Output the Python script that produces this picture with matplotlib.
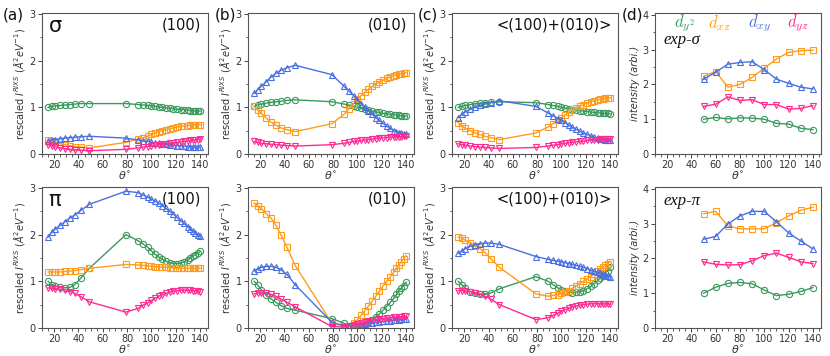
import matplotlib
matplotlib.use("Agg")
import matplotlib.pyplot as plt
from matplotlib.ticker import MultipleLocator

# theory angles (deg) shared by all calculated curves
theta = [15, 18, 21, 25, 29, 33, 37, 42, 49, 79, 89, 93, 97, 100, 103, 106, 109,
         112, 115, 118, 121, 124, 127, 130, 132, 134, 136, 138, 140]
# experiment angles
theta_exp = [50, 60, 70, 80, 90, 100, 110, 120, 130, 140]

# sigma (100)
s100_y2 = [1.0, 1.02, 1.03, 1.04, 1.05, 1.06, 1.07, 1.08, 1.08, 1.08, 1.06, 1.05, 1.04, 1.03, 1.02,
           1.01, 1.0, 0.99, 0.98, 0.97, 0.96, 0.95, 0.95, 0.94, 0.93, 0.93, 0.92, 0.92, 0.92]
s100_xz = [0.3, 0.27, 0.25, 0.22, 0.2, 0.18, 0.16, 0.15, 0.13, 0.25, 0.32, 0.35, 0.38, 0.42, 0.45,
           0.48, 0.5, 0.52, 0.54, 0.56, 0.58, 0.59, 0.6, 0.61, 0.62, 0.62, 0.63, 0.63, 0.63]
s100_xy = [0.28, 0.3, 0.31, 0.33, 0.34, 0.35, 0.36, 0.37, 0.38, 0.34, 0.3, 0.28, 0.27, 0.25, 0.24,
           0.23, 0.22, 0.21, 0.2, 0.19, 0.18, 0.17, 0.17, 0.16, 0.16, 0.15, 0.15, 0.15, 0.15]
s100_yz = [0.2, 0.17, 0.15, 0.13, 0.11, 0.1, 0.09, 0.08, 0.07, 0.1, 0.13, 0.15, 0.16, 0.17, 0.19,
           0.2, 0.21, 0.22, 0.23, 0.24, 0.25, 0.26, 0.27, 0.28, 0.29, 0.3, 0.3, 0.31, 0.32]

# sigma (010)
s010_y2 = [1.02, 1.05, 1.07, 1.09, 1.11, 1.12, 1.13, 1.15, 1.16, 1.12, 1.07, 1.05, 1.02, 1.0, 0.98,
           0.96, 0.94, 0.92, 0.9, 0.89, 0.87, 0.86, 0.85, 0.84, 0.83, 0.83, 0.82, 0.82, 0.81]
s010_xz = [1.02, 0.95, 0.87, 0.77, 0.68, 0.62, 0.56, 0.52, 0.48, 0.65, 0.85, 0.97, 1.08, 1.17, 1.25,
           1.32, 1.39, 1.45, 1.5, 1.54, 1.58, 1.62, 1.65, 1.68, 1.7, 1.71, 1.72, 1.73, 1.74]
s010_xy = [1.3, 1.38, 1.45, 1.55, 1.65, 1.73, 1.79, 1.85, 1.9, 1.7, 1.45, 1.35, 1.25, 1.15, 1.08,
           1.0, 0.93, 0.86, 0.78, 0.72, 0.66, 0.6, 0.55, 0.5, 0.48, 0.46, 0.45, 0.43, 0.42]
s010_yz = [0.27, 0.25, 0.23, 0.22, 0.21, 0.2, 0.19, 0.18, 0.17, 0.2, 0.23, 0.25, 0.27, 0.28, 0.29,
           0.3, 0.31, 0.32, 0.33, 0.34, 0.35, 0.35, 0.36, 0.36, 0.37, 0.37, 0.37, 0.38, 0.38]

# sigma <(100)+(010)>
sav_y2 = [1.0, 1.02, 1.04, 1.06, 1.08, 1.09, 1.1, 1.11, 1.12, 1.1, 1.06, 1.04, 1.02, 1.0, 0.98,
          0.97, 0.95, 0.94, 0.93, 0.92, 0.91, 0.9, 0.89, 0.88, 0.88, 0.87, 0.87, 0.87, 0.86]
sav_xz = [0.67, 0.6, 0.55, 0.5, 0.45, 0.42, 0.38, 0.35, 0.31, 0.45, 0.58, 0.65, 0.72, 0.78, 0.84,
          0.89, 0.94, 0.98, 1.02, 1.06, 1.09, 1.12, 1.14, 1.16, 1.17, 1.18, 1.19, 1.2, 1.2]
sav_xy = [0.78, 0.85, 0.9, 0.96, 1.0, 1.04, 1.07, 1.1, 1.14, 1.02, 0.88, 0.82, 0.76, 0.72, 0.67,
          0.62, 0.57, 0.53, 0.49, 0.45, 0.42, 0.39, 0.36, 0.34, 0.33, 0.32, 0.31, 0.3, 0.29]
sav_yz = [0.22, 0.2, 0.19, 0.17, 0.16, 0.15, 0.14, 0.13, 0.12, 0.14, 0.17, 0.19, 0.2, 0.22, 0.23,
          0.24, 0.25, 0.26, 0.27, 0.28, 0.29, 0.3, 0.31, 0.31, 0.32, 0.32, 0.33, 0.33, 0.33]

# pi (100)
p100_y2 = [1.0, 0.93, 0.9, 0.87, 0.86, 0.87, 0.93, 1.07, 1.28, 2.0, 1.87, 1.8, 1.73, 1.65, 1.58,
           1.52, 1.47, 1.43, 1.4, 1.38, 1.38, 1.39, 1.42, 1.46, 1.5, 1.54, 1.57, 1.6, 1.64]
p100_xz = [1.2, 1.2, 1.2, 1.2, 1.21, 1.22, 1.23, 1.25, 1.28, 1.36, 1.35, 1.34, 1.33, 1.32, 1.31,
           1.31, 1.3, 1.3, 1.29, 1.29, 1.28, 1.28, 1.28, 1.28, 1.28, 1.28, 1.28, 1.28, 1.28]
p100_xy = [1.95, 2.05, 2.12, 2.2, 2.28, 2.36, 2.42, 2.52, 2.65, 2.93, 2.9, 2.85, 2.8, 2.76, 2.72,
           2.67, 2.62, 2.56, 2.5, 2.44, 2.37, 2.3, 2.24, 2.17, 2.12, 2.08, 2.04, 2.0, 1.96]
p100_yz = [0.86, 0.85, 0.84, 0.83, 0.82, 0.78, 0.74, 0.67, 0.56, 0.34, 0.42, 0.49, 0.54, 0.59, 0.64,
           0.68, 0.71, 0.74, 0.77, 0.79, 0.8, 0.81, 0.81, 0.81, 0.81, 0.8, 0.8, 0.79, 0.78]

# pi (010)
p010_y2 = [1.0, 0.92, 0.82, 0.7, 0.62, 0.55, 0.48, 0.42, 0.38, 0.2, 0.1, 0.05, 0.03, 0.03, 0.05,
           0.08, 0.12, 0.18, 0.24, 0.3, 0.38, 0.46, 0.55, 0.64, 0.72, 0.79, 0.85, 0.91, 0.98]
p010_xz = [2.68, 2.62, 2.55, 2.45, 2.35, 2.2, 2.0, 1.73, 1.33, 0.1, 0.03, 0.05, 0.1, 0.18, 0.27,
           0.37, 0.47, 0.57, 0.68, 0.79, 0.9, 1.0, 1.1, 1.2, 1.28, 1.35, 1.42, 1.48, 1.55]
p010_xy = [1.22, 1.27, 1.3, 1.32, 1.32, 1.3, 1.25, 1.15, 0.92, 0.12, 0.05, 0.05, 0.06, 0.07, 0.08,
           0.09, 0.1, 0.11, 0.12, 0.13, 0.14, 0.15, 0.16, 0.17, 0.18, 0.18, 0.19, 0.19, 0.2]
p010_yz = [0.73, 0.75, 0.75, 0.74, 0.72, 0.68, 0.62, 0.55, 0.45, 0.03, 0.02, 0.04, 0.07, 0.09, 0.11,
           0.13, 0.15, 0.17, 0.18, 0.19, 0.2, 0.21, 0.22, 0.23, 0.23, 0.24, 0.24, 0.25, 0.25]

# pi <(100)+(010)>
pav_y2 = [1.0, 0.93, 0.85, 0.78, 0.74, 0.72, 0.72, 0.75, 0.84, 1.1, 1.0, 0.93, 0.86, 0.82, 0.79,
          0.77, 0.76, 0.77, 0.78, 0.8, 0.84, 0.89, 0.95, 1.02, 1.07, 1.12, 1.18, 1.23, 1.3]
pav_xz = [1.95, 1.92, 1.88, 1.83, 1.75, 1.7, 1.62, 1.48, 1.3, 0.73, 0.68, 0.7, 0.71, 0.74, 0.77,
          0.8, 0.85, 0.9, 0.95, 1.0, 1.05, 1.1, 1.16, 1.22, 1.26, 1.3, 1.34, 1.38, 1.42]
pav_xy = [1.6, 1.65, 1.7, 1.75, 1.78, 1.8, 1.82, 1.82, 1.79, 1.53, 1.47, 1.45, 1.43, 1.42, 1.4,
          1.38, 1.36, 1.34, 1.32, 1.3, 1.27, 1.24, 1.22, 1.19, 1.17, 1.15, 1.13, 1.11, 1.09]
pav_yz = [0.8, 0.8, 0.79, 0.78, 0.76, 0.73, 0.68, 0.62, 0.5, 0.18, 0.22, 0.27, 0.32, 0.36, 0.39,
          0.42, 0.45, 0.47, 0.49, 0.5, 0.51, 0.52, 0.52, 0.52, 0.52, 0.52, 0.52, 0.52, 0.51]

# experiment
exps_y2 = [1.0, 1.05, 1.01, 1.04, 1.03, 1.0, 0.88, 0.86, 0.74, 0.7]
exps_xz = [2.23, 2.37, 1.92, 2.0, 2.2, 2.47, 2.73, 2.92, 2.97, 2.98]
exps_xy = [2.15, 2.35, 2.58, 2.63, 2.65, 2.42, 2.15, 2.03, 1.92, 1.87]
exps_yz = [1.37, 1.43, 1.64, 1.54, 1.56, 1.42, 1.42, 1.29, 1.31, 1.39]

expp_y2 = [1.0, 1.17, 1.28, 1.31, 1.27, 1.09, 0.93, 0.97, 1.05, 1.16]
expp_xz = [3.28, 3.35, 2.93, 2.85, 2.85, 2.85, 3.03, 3.22, 3.38, 3.47]
expp_xy = [2.55, 2.63, 2.99, 3.22, 3.35, 3.35, 3.05, 2.73, 2.5, 2.27]
expp_yz = [1.9, 1.83, 1.81, 1.82, 1.93, 2.08, 2.15, 2.03, 1.9, 1.85]

GREEN, ORANGE, BLUE, PINK = "#3a9a5c", "#ff9c1e", "#4a6fe0", "#ff2a92"
styles = [(GREEN, "o"), (ORANGE, "s"), (BLUE, "^"), (PINK, "v")]


def style_axes(ax, ymax, ylabel):
    ax.set_xlim(10, 146.5)
    ax.set_ylim(0, ymax)
    ax.xaxis.set_major_locator(MultipleLocator(20))
    ax.xaxis.set_minor_locator(MultipleLocator(5))
    ax.yaxis.set_major_locator(MultipleLocator(1))
    ax.yaxis.set_minor_locator(MultipleLocator(0.5))
    ax.tick_params(which="major", length=3, width=0.7, labelsize=7, colors="#444444",
                   labelcolor="#333333", pad=1.5)
    ax.tick_params(which="minor", length=1.8, width=0.6, colors="#444444")
    for sp in ax.spines.values():
        sp.set_color("#555555")
        sp.set_linewidth(0.8)
    ax.set_xlabel(r"$\theta^{\circ}$", fontsize=8, labelpad=0, color="#333333")
    ax.set_ylabel(ylabel, fontsize=7, labelpad=1.5, color="#333333")


def draw_series(ax, x, series):
    for y, (c, m) in zip(series, styles):
        ax.plot(x, y, color=c, lw=1.0, marker=m, ms=4.5, mfc="none", mec=c, mew=0.8)


fig = plt.figure(figsize=(8.3, 3.56), dpi=100)

lefts = [0.0506, 0.2988, 0.5446, 0.789]
bottoms = [0.5674, 0.0787]
w, h = 0.2, 0.396

theory = [
    [[s100_y2, s100_xz, s100_xy, s100_yz], [s010_y2, s010_xz, s010_xy, s010_yz],
     [sav_y2, sav_xz, sav_xy, sav_yz]],
    [[p100_y2, p100_xz, p100_xy, p100_yz], [p010_y2, p010_xz, p010_xy, p010_yz],
     [pav_y2, pav_xz, pav_xy, pav_yz]],
]
experiment = [[exps_y2, exps_xz, exps_xy, exps_yz], [expp_y2, expp_xz, expp_xy, expp_yz]]
plane_labels = ["(100)", "(010)", "<(100)+(010)>"]
pol_labels = ["σ", "π"]
ylab = r"rescaled $I^{RIXS}$ ($\AA^2eV^{-1}$)"

for row in range(2):
    for col in range(3):
        ax = fig.add_axes([lefts[col], bottoms[row], w, h])
        draw_series(ax, theta, theory[row][col])
        style_axes(ax, 3.02, ylab)
        ax.text(0.96, 0.915, plane_labels[col], transform=ax.transAxes, ha="right", va="center",
                fontsize=10.5, color="#111111")
        if col == 0:
            ax.text(0.04, 0.905, pol_labels[row], transform=ax.transAxes, ha="left", va="center",
                    fontsize=15, color="#111111")
    ax = fig.add_axes([lefts[3], bottoms[row], w, h])
    draw_series(ax, theta_exp, experiment[row])
    style_axes(ax, 4.05, "intensity (arbi.)")
    ax.yaxis.label.set_style("italic")
    ax.text(0.05, 0.81 if row == 0 else 0.9, "exp-" + pol_labels[row], transform=ax.transAxes,
            ha="left", va="center", fontsize=12, family="Liberation Serif", style="italic",
            color="#111111")
    if row == 0:
        for xf, lab, c in zip([0.18, 0.39, 0.63, 0.86],
                              [r"$d_{y^2}$", r"$d_{xz}$", r"$d_{xy}$", r"$d_{yz}$"],
                              [GREEN, ORANGE, BLUE, PINK]):
            ax.text(xf, 0.93, lab, transform=ax.transAxes, ha="center", va="center",
                    fontsize=12, color=c, math_fontfamily="cm")

for x, lab in zip([3, 215, 418, 622], ["(a)", "(b)", "(c)", "(d)"]):
    fig.text(x / 830, 1 - 15 / 356, lab, fontsize=11, ha="left", va="center", color="#111111")

fig.savefig("out.png", dpi=100)
